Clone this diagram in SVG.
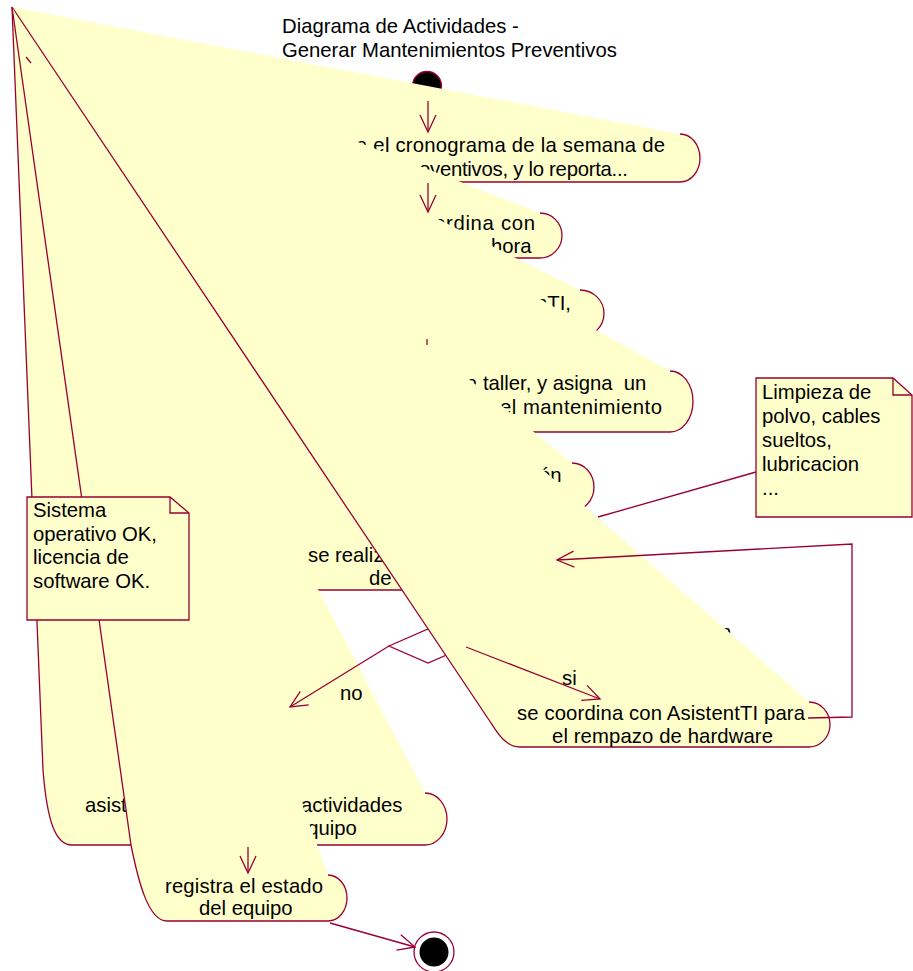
<svg xmlns="http://www.w3.org/2000/svg" width="913" height="971" viewBox="0 0 913 971">
<style>
.fill{fill:#FFFFCC;stroke:none}
.ln{fill:none;stroke:#990033;stroke-width:1.3}
.note{fill:#FFFFCC;stroke:#990033;stroke-width:1.3}
.t{font-family:"Liberation Sans",Arial,sans-serif;font-size:20.3px;fill:#000}
.c{fill:none;stroke:#990033;stroke-width:1.3}
</style>
<defs>
<marker id="arr" markerUnits="userSpaceOnUse" viewBox="0 0 20 18" markerWidth="20" markerHeight="18" refX="18" refY="9" orient="auto" overflow="visible">
<path d="M1,1 L18,9 L1,17" fill="none" stroke="#990033" stroke-width="1.3"/>
</marker>
</defs>
<rect width="913" height="971" fill="#fff"/>
<g id="title">
<text class="t" x="282" y="33">Diagrama de Actividades -</text>
<text class="t" x="282" y="57">Generar Mantenimientos Preventivos</text>
</g>
<g id="start">
<circle cx="427" cy="86" r="14.5" fill="#000" stroke="#990033" stroke-width="1.3"/>
</g>
<g id="act1">
<path class="fill" d="M12,7 L680,134 A20,24 0 0 1 680,182 L64,182 Z"/>
<path class="ln" d="M680,134 A20,24 0 0 1 680,182 L64,182"/>
<text class="t" x="356" y="152" textLength="309" lengthAdjust="spacing">a el cronograma de la semana de</text>
<text class="t" x="419" y="176" textLength="209" lengthAdjust="spacing">eventivos, y lo reporta...</text>
</g>
<g id="act2">
<path class="fill" d="M12,7 L540,213 A22,22.5 0 0 1 540,258 L87,258 Z"/>
<path class="ln" d="M540,213 A22,22.5 0 0 1 540,258 L87,258"/>
<text class="t" x="434" y="230" textLength="101" lengthAdjust="spacing">ordina con</text>
<text class="t" x="491" y="253">hora</text>
</g>
<g id="act3">
<path class="fill" d="M12,7 L580,290 A24,23.5 0 0 1 580,337 L111,337 Z"/>
<path class="ln" d="M580,290 A24,23.5 0 0 1 580,337 L111,337"/>
<text class="t" x="536" y="310">nTI,</text>
</g>
<g id="act4">
<path class="fill" d="M12,7 L670,371 A23,30.5 0 0 1 670,432 L139,432 Z"/>
<path class="ln" d="M670,371 A23,30.5 0 0 1 670,432 L139,432"/>
<text class="t" x="466" y="390" style="white-space:pre">a taller, y asigna  un</text>
<text class="t" x="500" y="414" textLength="162" lengthAdjust="spacing">el mantenimiento</text>
</g>
<g id="act5">
<path class="fill" d="M12,7 L572,463 A22,24 0 0 1 572,511 L163,511 Z"/>
<path class="ln" d="M572,463 A22,24 0 0 1 572,511 L163,511"/>
<text class="t" x="539" y="482">ón</text>
</g>
<g id="act6">
<path class="fill" d="M12,7 L560,540 A20,25 0 0 1 560,590 L187,590 Z"/>
<path class="ln" d="M560,540 A20,25 0 0 1 560,590 L187,590"/>
<text class="t" x="308" y="562">se realiz</text>
<text class="t" x="369" y="585">de</text>
<text class="t" x="720" y="639">n</text>
</g>
<g id="decision">
<path d="M389,646 L428,629 L467,646 L428,663 Z" fill="#fff" stroke="#990033" stroke-width="1.3"/>
</g>
<g id="act7">
<path class="fill" d="M12,7 L809,702 A21,22.5 0 0 1 809,747 L520,747 C505,747 497,732 489,720 Z"/>
<path class="ln" d="M809,702 A21,22.5 0 0 1 809,747 L520,747 C505,747 497,732 489,720 L12,7"/>
<text class="t" x="517" y="720" textLength="288" lengthAdjust="spacing">se coordina con AsistentTI para</text>
<text class="t" x="552" y="743" textLength="221" lengthAdjust="spacing">el rempazo de hardware</text>
</g>
<g id="act8">
<path class="fill" d="M12,7 L425,793 A22,26 0 0 1 425,845 L72,845 C55,845 47,820 43,770 Z"/>
<path class="ln" d="M425,793 A22,26 0 0 1 425,845 L72,845 C55,845 47,820 43,770 L12,7"/>
<text class="t" x="85" y="812">asist</text>
<text class="t" x="301" y="812">actividades</text>
<text class="t" x="296" y="835">equipo</text>
</g>
<g id="act9">
<path class="fill" d="M12,7 L328,875 A19,23 0 0 1 328,921 L167,921 C148,921 138,880 131,845 Z"/>
<path class="ln" d="M328,875 A19,23 0 0 1 328,921 L167,921 C148,921 138,880 131,845 L12,7"/>
<text class="t" x="165" y="893" textLength="158" lengthAdjust="spacing">registra el estado</text>
<text class="t" x="199" y="915">del equipo</text>
</g>
<g id="note1">
<path class="note" d="M27,497 L170,497 L189,513 L189,620 L27,620 Z"/>
<path class="ln" d="M170,497 L170,513 L189,513"/>
<text class="t" x="33" y="517">Sistema</text>
<text class="t" x="33" y="541">operativo OK,</text>
<text class="t" x="33" y="564">licencia de</text>
<text class="t" x="33" y="588">software OK.</text>
</g>
<g id="note2">
<path class="note" d="M756,378 L893,378 L912,395 L912,517 L756,517 Z"/>
<path class="ln" d="M893,378 L893,395 L912,395"/>
<text class="t" x="762" y="399">Limpieza de</text>
<text class="t" x="762" y="423">polvo, cables</text>
<text class="t" x="762" y="447">sueltos,</text>
<text class="t" x="762" y="471">lubricacion</text>
<text class="t" x="762" y="495">...</text>
</g>
<g id="end">
<circle cx="434" cy="952" r="20" fill="#fff" stroke="#990033" stroke-width="1.3"/>
<circle cx="434" cy="952" r="14.5" fill="#000"/>
</g>
<g id="connectors">
<path class="c" d="M428,101 L428,132" marker-end="url(#arr)"/>
<path class="c" d="M428,183 L428,212" marker-end="url(#arr)"/>
<path class="c" d="M427,339 L427,345"/>
<path class="c" d="M26,57 L31,63"/>
<path class="c" d="M598,517 L756,472"/>
<path class="c" d="M389,646 L290,707" marker-end="url(#arr)"/>
<path class="c" d="M466,647 L600,699" marker-end="url(#arr)"/>
<path class="c" d="M808,718 L852,717 L852,544 L557,560" marker-end="url(#arr)"/>
<path class="c" d="M248,847 L248,873" marker-end="url(#arr)"/>
<path class="c" d="M330,923 L415,947" marker-end="url(#arr)"/>
<text class="t" x="340" y="700">no</text>
<text class="t" x="562" y="685">si</text>
</g>
</svg>
